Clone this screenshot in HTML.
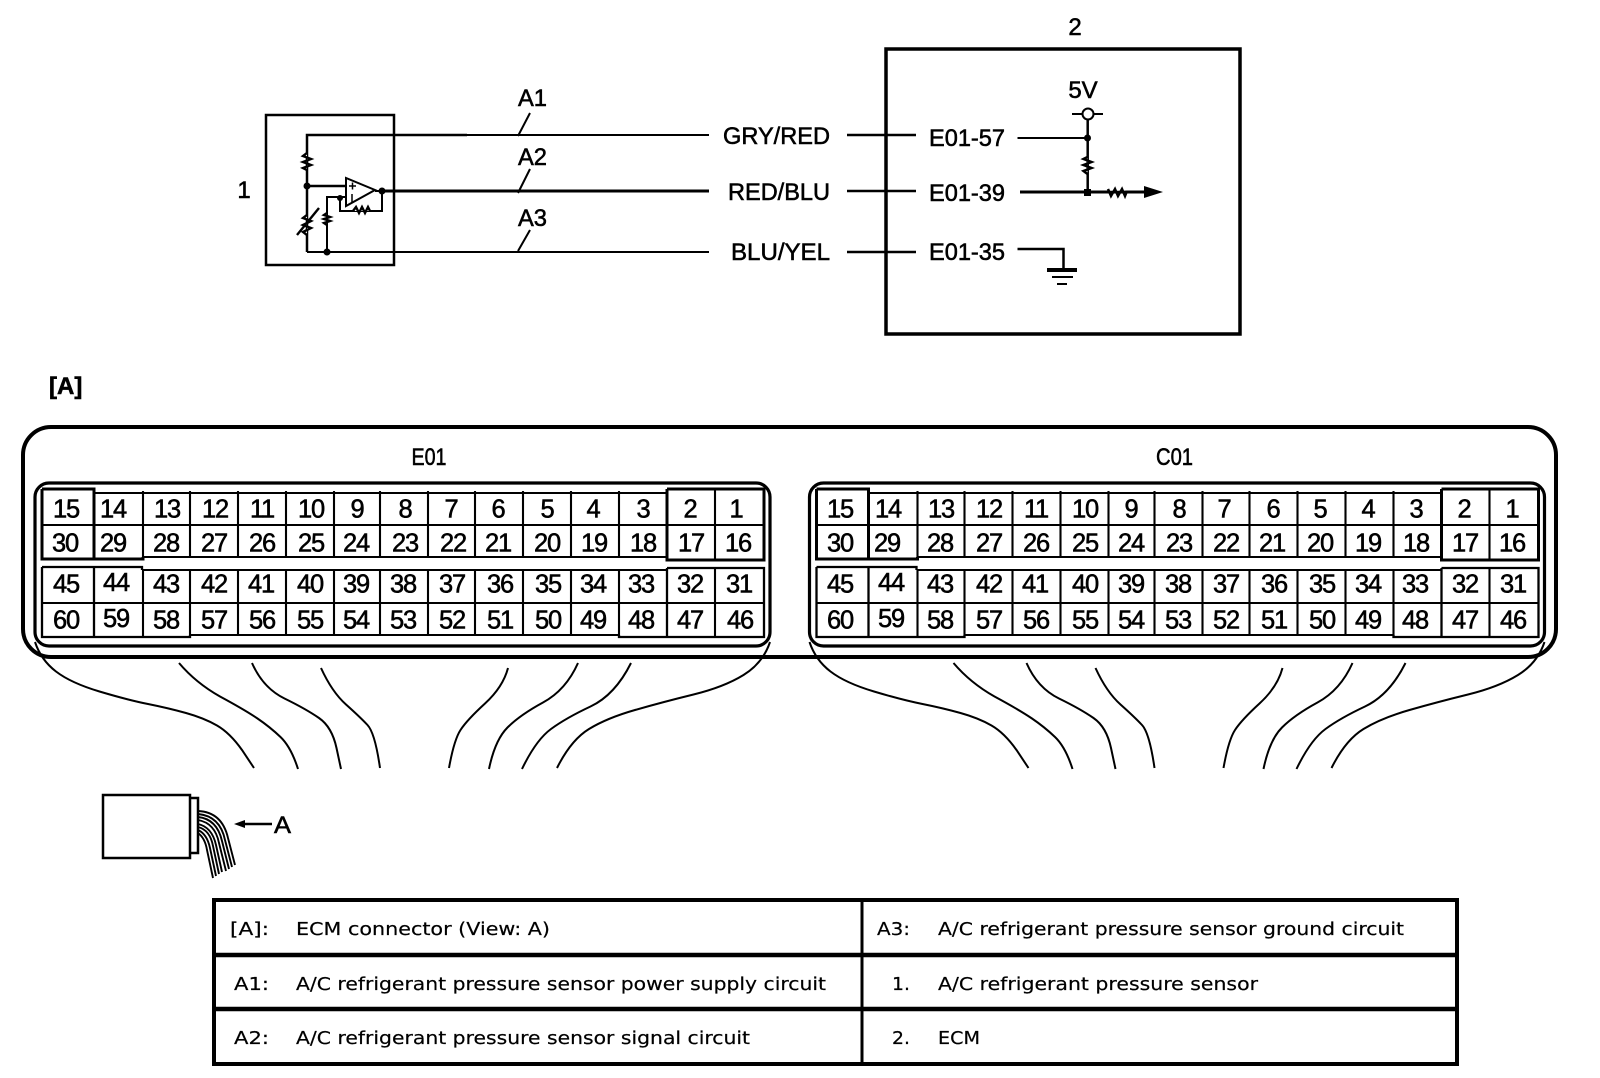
<!DOCTYPE html>
<html>
<head>
<meta charset="utf-8">
<style>
html,body{margin:0;padding:0;background:#fff}
svg{display:block}
text{font-family:"Liberation Sans",sans-serif;fill:#000}
.l{font-size:24px;stroke:#000;stroke-width:.55}
.n text{font-size:25.5px;letter-spacing:-1.2px;text-anchor:middle;stroke:#000;stroke-width:.55}
.t text{font-family:"DejaVu Sans","Liberation Sans",sans-serif;font-size:18px;stroke:#000;stroke-width:.2}
.w path{fill:none;stroke:#000;stroke-width:2}
.g{fill:none;stroke:#000}
</style>
</head>
<body>
<svg width="1600" height="1078" viewBox="0 0 1600 1078" xmlns="http://www.w3.org/2000/svg">
<rect width="1600" height="1078" fill="#fff"/>

<!-- Sensor -->
<g fill="none" stroke="#000">
<rect x="266" y="115" width="128" height="150" stroke-width="2.5"/>
<path d="M307 252V135H467" stroke-width="2.5"/>
<path d="M467 135H709" stroke-width="2"/>
<path d="M382 191H709" stroke-width="3"/>
<path d="M307 252H709" stroke-width="2"/>
<path d="M307 186H346" stroke-width="2.5"/>
<path d="M346 178V206L375 190Z" stroke-width="2" fill="#fff"/>
<path d="M375 191H382M327 252V197H346M340 197V211H382V191" stroke-width="2"/>
<path d="M349 186H356M352.500 182.500V189.500M352 194V202" stroke-width="1.500"/>
<path d="M307 153l-4 3 8 3-8 3 8 3-8 3 4 2" fill="#fff" stroke-width="2.4"/>
<path d="M327 213l-3 2 6 2-6 2 6 2-6 2 3 2" fill="#fff" stroke-width="2.4"/>
<path d="M353 211l3-4 3 6 3-6 3 6 3-6 2 4" fill="#fff" stroke-width="2.4"/>
<path d="M307 215l-4 3 8 3-8 4 8 3-8 4 4 3" fill="#fff" stroke-width="2.4"/>
<path d="M297 235L319 208" stroke-width="2.4"/>
<path d="M530 113L518 136M530 169L518 193M530 230L518 251" stroke-width="2"/>
<path d="M847 135H916M847 191H916M847 252H916" stroke-width="2.500"/>
<rect x="886" y="49" width="354" height="285" stroke-width="3.500"/>
<path d="M1017.500 138H1088" stroke-width="2"/>
<path d="M1020 192H1144" stroke-width="3"/>
<path d="M1017.500 249H1063.500V270" stroke-width="2.500"/>
<path d="M1047 270H1077" stroke-width="4"/>
<path d="M1052 277H1073M1057 284H1067" stroke-width="2"/>
<path d="M1072 114H1103" stroke-width="2"/>
<path d="M1087.700 120V192" stroke-width="2.500"/>
<circle cx="1088" cy="114" r="5.500" fill="#fff" stroke-width="2"/>
<path d="M1087.500 157l-4 2 8 3-8 3 8 3-8 3 4 3" fill="#fff" stroke-width="2.500"/>
<path d="M1108 189l3 7 4-7 3 7 4-7 3 7 2-5" fill="#fff" stroke-width="2.500"/>
</g>
<g fill="#000">
<circle cx="307" cy="186" r="3.500"/><circle cx="382" cy="191" r="3.500"/><circle cx="340" cy="198" r="3"/><circle cx="327" cy="252" r="3.500"/>
<circle cx="1087.500" cy="138" r="3.500"/><rect x="1084" y="189" width="7" height="7"/>
<path d="M1144 186L1163 192L1144 198Z"/>
<path d="M234 824L245 820V828Z"/>
</g>
<path d="M1020 192H1144M245 824H272" stroke="#000" stroke-width="2.500" fill="none"/>

<text class="l" x="244" y="198" text-anchor="middle">1</text>
<text class="l" x="1075" y="35" text-anchor="middle">2</text>
<text class="l" x="518" y="106" textLength="29" lengthAdjust="spacingAndGlyphs">A1</text>
<text class="l" x="518" y="165" textLength="29" lengthAdjust="spacingAndGlyphs">A2</text>
<text class="l" x="518" y="226" textLength="29" lengthAdjust="spacingAndGlyphs">A3</text>
<text class="l" x="723" y="144" textLength="107" lengthAdjust="spacingAndGlyphs">GRY/RED</text>
<text class="l" x="728" y="200" textLength="102" lengthAdjust="spacingAndGlyphs">RED/BLU</text>
<text class="l" x="731" y="260" textLength="99" lengthAdjust="spacingAndGlyphs">BLU/YEL</text>
<text class="l" x="929" y="146" textLength="76" lengthAdjust="spacingAndGlyphs">E01-57</text>
<text class="l" x="929" y="201" textLength="76" lengthAdjust="spacingAndGlyphs">E01-39</text>
<text class="l" x="929" y="260" textLength="76" lengthAdjust="spacingAndGlyphs">E01-35</text>
<text class="l" x="1083" y="98" text-anchor="middle">5V</text>
<text class="l" x="49" y="394" style="font-weight:bold">[A]</text>

<!-- Outer connector -->
<rect x="23" y="427" width="1533" height="230" rx="28" fill="none" stroke="#000" stroke-width="4"/>
<text class="l" x="411.500" y="465" textLength="35" lengthAdjust="spacingAndGlyphs">E01</text>
<text class="l" x="1156" y="465" textLength="37" lengthAdjust="spacingAndGlyphs">C01</text>

<defs>
<g id="conn">
<rect x="35" y="483" width="735" height="163" rx="14" fill="none" stroke="#000" stroke-width="3.2"/>
<path class="g" stroke-width="2.1" d="M143 491V558M190 491V558M238 491V558M286 491V558M334 491V558M380 491V558M428 491V558M475 491V558M523 491V558M571 491V558M619 491V558M715 489V560M190 569V636M238 569V636M286 569V636M334 569V636M380 569V636M428 569V636M475 569V636M523 569V636M571 569V636M619 569V636M715 568V637M143 570V637"/>
<path class="g" stroke-width="2.1" d="M94 493H667M143 557H667M42 525H764M143 570H667M42 603H764M190 635H619"/>
<path class="g" stroke-width="3" d="M42 489H94V559M42 489V559H143V557M667 489H764V560H667V489"/>
<path class="g" stroke-width="2.3" d="M42 567H142V570M42 567V637H190V635M94 567V637M667 568H764V637H619V635M667 568V637"/>
</g>
<g id="wires" class="w">
<path d="M35 642Q41 660 56 671.500Q71 683 99.500 691.500Q128 700 148 704Q168 708 186 713Q204 718 217 725.500Q230 733 242 750L254 768"/>
<path d="M179 663Q196 683 220 696.500Q245 710 257.500 718.500Q270 727 280.500 737Q291 747 298 769"/>
<path d="M252 663Q263 688 284.500 698.500Q306 709 319 718Q332 727 336.500 748L341 769"/>
<path d="M321 668Q332 692 346 704.500Q360 717 367.500 725Q375 733 380 768"/>
<path d="M508 668Q503 687 485 703.500Q467 720 460.500 730Q454 740 449 768"/>
<path d="M578 663Q566 690 543 702.500Q520 715 507.500 727.500Q495 740 489 769"/>
<path d="M631 663Q615 695 590.500 706.500Q566 718 551 729Q536 740 522 769"/>
<path d="M770 642Q763 663 743.500 675Q724 687 693.500 694.500Q663 702 635 710Q607 718 589 729Q571 740 557 768"/>
</g>
</defs>
<use href="#conn"/>
<use href="#conn" transform="translate(774.500 0)"/>
<use href="#wires"/>
<use href="#wires" transform="translate(774.500 0)"/>

<g class="n">
<text x="66" y="517.500">15</text><text x="113" y="517.500">14</text><text x="167" y="517.500">13</text><text x="215" y="517.500">12</text><text x="262" y="517.500">11</text><text x="311" y="517.500">10</text><text x="357" y="517.500">9</text><text x="405" y="517.500">8</text><text x="451" y="517.500">7</text><text x="498" y="517.500">6</text><text x="547" y="517.500">5</text><text x="593" y="517.500">4</text><text x="643" y="517.500">3</text><text x="690" y="517.500">2</text><text x="736" y="517.500">1</text>
<text x="65" y="551.500">30</text><text x="113" y="551.500">29</text><text x="166" y="551.500">28</text><text x="214" y="551.500">27</text><text x="262" y="551.500">26</text><text x="311" y="551.500">25</text><text x="356" y="551.500">24</text><text x="405" y="551.500">23</text><text x="453" y="551.500">22</text><text x="498" y="551.500">21</text><text x="547" y="551.500">20</text><text x="594" y="551.500">19</text><text x="643" y="551.500">18</text><text x="691" y="551.500">17</text><text x="738" y="551.500">16</text>
<text x="66" y="592.500">45</text><text x="116" y="591">44</text><text x="166" y="592.500">43</text><text x="214" y="592.500">42</text><text x="261" y="592.500">41</text><text x="310" y="592.500">40</text><text x="356" y="592.500">39</text><text x="403" y="592.500">38</text><text x="452" y="592.500">37</text><text x="500" y="592.500">36</text><text x="548" y="592.500">35</text><text x="593" y="592.500">34</text><text x="641" y="592.500">33</text><text x="690" y="592.500">32</text><text x="739" y="592.500">31</text>
<text x="66" y="628.500">60</text><text x="116" y="627">59</text><text x="166" y="628.500">58</text><text x="214" y="628.500">57</text><text x="262" y="628.500">56</text><text x="310" y="628.500">55</text><text x="356" y="628.500">54</text><text x="403" y="628.500">53</text><text x="452" y="628.500">52</text><text x="500" y="628.500">51</text><text x="548" y="628.500">50</text><text x="593" y="628.500">49</text><text x="641" y="628.500">48</text><text x="690" y="628.500">47</text><text x="740" y="628.500">46</text>

<text x="840" y="517.500">15</text><text x="888" y="517.500">14</text><text x="941" y="517.500">13</text><text x="989" y="517.500">12</text><text x="1036" y="517.500">11</text><text x="1085" y="517.500">10</text><text x="1131" y="517.500">9</text><text x="1179" y="517.500">8</text><text x="1224" y="517.500">7</text><text x="1273" y="517.500">6</text><text x="1320" y="517.500">5</text><text x="1368" y="517.500">4</text><text x="1416" y="517.500">3</text><text x="1464" y="517.500">2</text><text x="1512" y="517.500">1</text>
<text x="840" y="551.500">30</text><text x="887" y="551.500">29</text><text x="940" y="551.500">28</text><text x="989" y="551.500">27</text><text x="1036" y="551.500">26</text><text x="1085" y="551.500">25</text><text x="1131" y="551.500">24</text><text x="1179" y="551.500">23</text><text x="1226" y="551.500">22</text><text x="1272" y="551.500">21</text><text x="1320" y="551.500">20</text><text x="1368" y="551.500">19</text><text x="1416" y="551.500">18</text><text x="1465" y="551.500">17</text><text x="1512" y="551.500">16</text>
<text x="840" y="592.500">45</text><text x="891" y="591">44</text><text x="940" y="592.500">43</text><text x="989" y="592.500">42</text><text x="1035" y="592.500">41</text><text x="1085" y="592.500">40</text><text x="1131" y="592.500">39</text><text x="1178" y="592.500">38</text><text x="1226" y="592.500">37</text><text x="1274" y="592.500">36</text><text x="1322" y="592.500">35</text><text x="1368" y="592.500">34</text><text x="1415" y="592.500">33</text><text x="1465" y="592.500">32</text><text x="1513" y="592.500">31</text>
<text x="840" y="628.500">60</text><text x="891" y="627">59</text><text x="940" y="628.500">58</text><text x="989" y="628.500">57</text><text x="1036" y="628.500">56</text><text x="1085" y="628.500">55</text><text x="1131" y="628.500">54</text><text x="1178" y="628.500">53</text><text x="1226" y="628.500">52</text><text x="1274" y="628.500">51</text><text x="1322" y="628.500">50</text><text x="1368" y="628.500">49</text><text x="1415" y="628.500">48</text><text x="1465" y="628.500">47</text><text x="1513" y="628.500">46</text>
</g>

<!-- Small connector -->
<g fill="none" stroke="#000">
<rect x="103" y="795" width="87" height="63" stroke-width="2.500"/>
<path d="M190 798H198V853H190" stroke-width="2.500"/>
<g stroke-width="1.900">
<path d="M198 811Q222 812 228 838L235 865"/>
<path d="M198 814Q220 816 225 840L232 867"/>
<path d="M198 817Q217 819 222 841L229 869"/>
<path d="M198 820Q215 823 219 843L226 871"/>
<path d="M198 824Q212 827 216 845L222 872"/>
<path d="M198 827Q210 830 213 846L219 874"/>
<path d="M198 830Q207 834 210 848L216 876"/>
<path d="M198 833Q205 838 207 850L213 878"/>
</g>
</g>
<text class="l" x="274" y="833" textLength="17" lengthAdjust="spacingAndGlyphs">A</text>

<!-- Legend table -->
<g fill="none" stroke="#000">
<rect x="214" y="900" width="1243" height="164" stroke-width="4"/>
<path d="M214 955H1457M214 1009H1457" stroke-width="4.500"/>
<path d="M862 900V1064" stroke-width="3"/>
</g>
<g class="t">
<text x="230" y="935" textLength="39" lengthAdjust="spacingAndGlyphs">[A]:</text>
<text x="296" y="935" textLength="254" lengthAdjust="spacingAndGlyphs">ECM connector (View: A)</text>
<text x="877" y="935" textLength="33" lengthAdjust="spacingAndGlyphs">A3:</text>
<text x="938" y="935" textLength="466" lengthAdjust="spacingAndGlyphs">A/C refrigerant pressure sensor ground circuit</text>
<text x="234" y="990" textLength="35" lengthAdjust="spacingAndGlyphs">A1:</text>
<text x="296" y="990" textLength="530" lengthAdjust="spacingAndGlyphs">A/C refrigerant pressure sensor power supply circuit</text>
<text x="892" y="990" textLength="18" lengthAdjust="spacingAndGlyphs">1.</text>
<text x="938" y="990" textLength="320" lengthAdjust="spacingAndGlyphs">A/C refrigerant pressure sensor</text>
<text x="234" y="1044" textLength="35" lengthAdjust="spacingAndGlyphs">A2:</text>
<text x="296" y="1044" textLength="454" lengthAdjust="spacingAndGlyphs">A/C refrigerant pressure sensor signal circuit</text>
<text x="892" y="1044" textLength="18" lengthAdjust="spacingAndGlyphs">2.</text>
<text x="938" y="1044" textLength="42" lengthAdjust="spacingAndGlyphs">ECM</text>
</g>
</svg>
</body>
</html>
